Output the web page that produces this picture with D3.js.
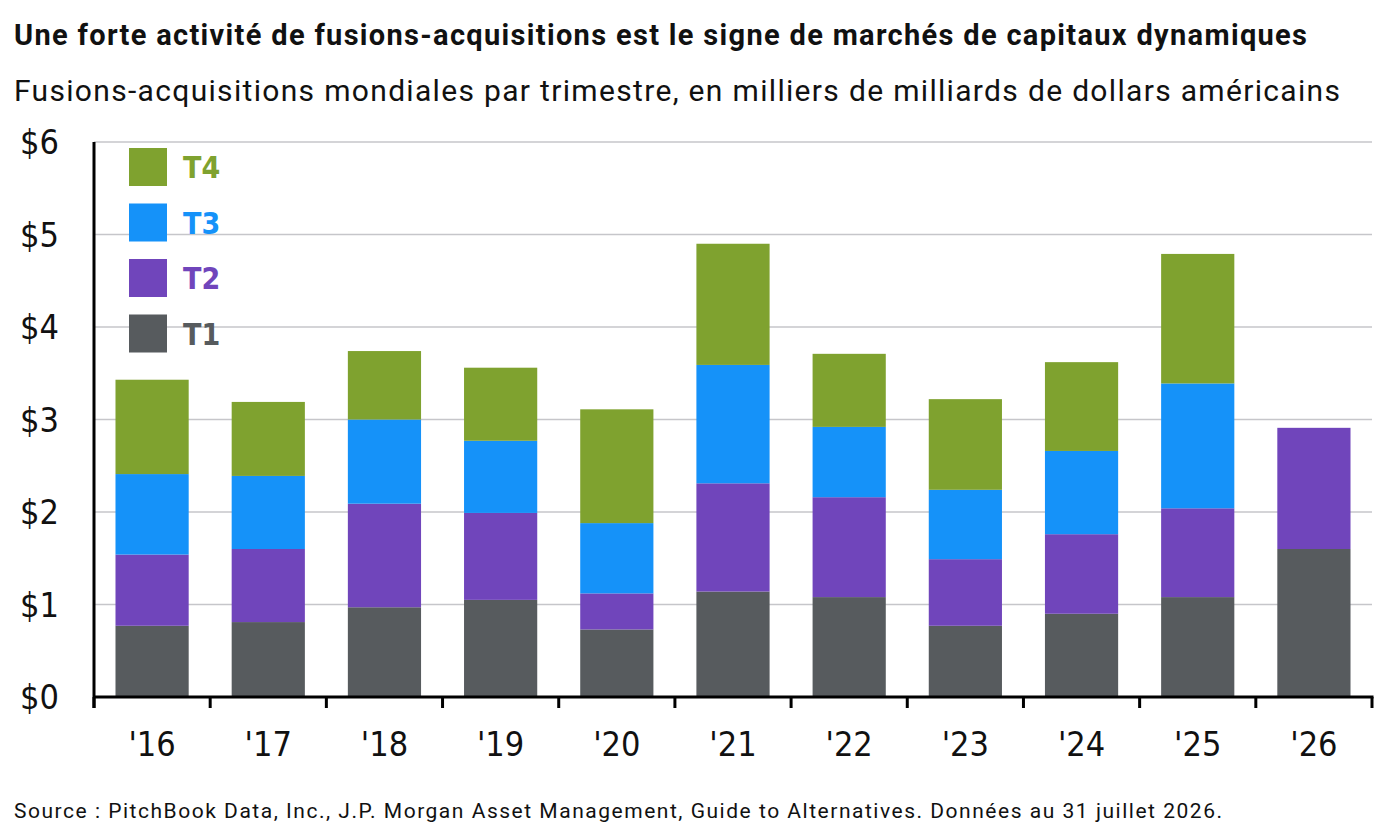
<!DOCTYPE html>
<html>
<head>
<meta charset="utf-8">
<script src="https://cdn.jsdelivr.net/npm/d3@7"></script>
<style>
  body { margin: 0; background: #fff; }
  svg { display: block; }
</style>
</head>
<body>
<div id="chart"></div>
<script>
// data
const years = ["'16", "'17", "'18", "'19", "'20", "'21", "'22", "'23", "'24", "'25", "'26"];
const q1 = [0.77, 0.81, 0.97, 1.05, 0.73, 1.14, 1.08, 0.77, 0.90, 1.08, 1.60];
const q2 = [0.77, 0.79, 1.12, 0.94, 0.39, 1.17, 1.08, 0.72, 0.86, 0.96, 1.31];
const q3 = [0.87, 0.79, 0.91, 0.78, 0.76, 1.28, 0.76, 0.75, 0.90, 1.35, 0];
const q4 = [1.02, 0.80, 0.74, 0.79, 1.23, 1.31, 0.79, 0.98, 0.96, 1.40, 0];
const yTicks = [0, 1, 2, 3, 4, 5, 6];
const seriesKeys = ["T1", "T2", "T3", "T4"];
const seriesColors = ["#575b5e", "#7045bb", "#1592f9", "#7fa22f"];

const W = 1390, H = 838;
const plot = { left: 94, right: 1372, top: 142, bottom: 697 };

const rows = years.map((y, i) => ({ year: y, T1: q1[i], T2: q2[i], T3: q3[i], T4: q4[i] }));
const stacked = d3.stack().keys(seriesKeys)(rows);

const svg = d3.select("#chart").append("svg")
  .attr("width", W)
  .attr("height", H);

const x = d3.scaleBand()
  .domain(years)
  .range([plot.left, plot.right])
  .paddingInner(0.37)
  .paddingOuter(0.185);

const y = d3.scaleLinear()
  .domain([0, 6])
  .range([plot.bottom, plot.top]);

const color = d3.scaleOrdinal().domain(seriesKeys).range(seriesColors);

const narrow = "'Liberation Sans Narrow', 'DejaVu Sans Condensed', sans-serif";
const sans = "Roboto, sans-serif";

// titles (textLength keeps the widths of the original typeface)
svg.append("text")
  .attr("x", 14).attr("y", 45)
  .attr("font-family", sans)
  .attr("font-weight", 700)
  .attr("font-size", 29)
  .attr("fill", "#111")
  .attr("textLength", 1293)
  .attr("lengthAdjust", "spacing")
  .text("Une forte activité de fusions-acquisitions est le signe de marchés de capitaux dynamiques");

svg.append("text")
  .attr("x", 14).attr("y", 101)
  .attr("font-family", sans)
  .attr("font-size", 30)
  .attr("fill", "#111")
  .attr("textLength", 1326)
  .attr("lengthAdjust", "spacing")
  .text("Fusions-acquisitions mondiales par trimestre, en milliers de milliards de dollars américains");

// gridlines
svg.append("g")
  .selectAll("line")
  .data(yTicks.filter(d => d > 0))
  .join("line")
  .attr("x1", plot.left).attr("x2", plot.right)
  .attr("y1", d => y(d)).attr("y2", d => y(d))
  .attr("stroke", "#c6c6ca")
  .attr("stroke-width", 1.5);

// y labels
svg.append("g")
  .selectAll("text")
  .data(yTicks)
  .join("text")
  .attr("x", 59)
  .attr("y", d => y(d) + 12)
  .attr("text-anchor", "end")
  .attr("font-family", narrow)
  .attr("font-size", 34)
  .attr("fill", "#111")
  .text(d => "$" + d);

// bars
svg.append("g")
  .selectAll("g")
  .data(stacked)
  .join("g")
  .attr("fill", d => color(d.key))
  .selectAll("rect")
  .data(d => d)
  .join("rect")
  .attr("x", d => x(d.data.year))
  .attr("width", x.bandwidth())
  .attr("y", d => y(d[1]))
  .attr("height", d => y(d[0]) - y(d[1]));

// axes
svg.append("line")
  .attr("x1", plot.left).attr("x2", plot.left)
  .attr("y1", plot.top).attr("y2", plot.bottom + 11)
  .attr("stroke", "#000").attr("stroke-width", 3);

svg.append("line")
  .attr("x1", plot.left).attr("x2", plot.right + 1.5)
  .attr("y1", plot.bottom).attr("y2", plot.bottom)
  .attr("stroke", "#000").attr("stroke-width", 3);

const step = x.step();
const bounds = years.map(d => x(d) + x.bandwidth() / 2 - step / 2).concat([plot.right]);
svg.append("g")
  .selectAll("line")
  .data(bounds)
  .join("line")
  .attr("x1", d => d).attr("x2", d => d)
  .attr("y1", plot.bottom).attr("y2", plot.bottom + 11)
  .attr("stroke", "#000").attr("stroke-width", 3);

svg.append("g")
  .selectAll("text")
  .data(years)
  .join("text")
  .attr("x", d => x(d) + x.bandwidth() / 2)
  .attr("y", 756)
  .attr("text-anchor", "middle")
  .attr("font-family", narrow)
  .attr("font-size", 34)
  .attr("fill", "#111")
  .text(d => d);

// legend
const legend = svg.append("g")
  .selectAll("g")
  .data(seriesKeys.slice().reverse())
  .join("g")
  .attr("transform", (d, i) => `translate(129,${148 + i * 55.5})`);

legend.append("rect")
  .attr("width", 38).attr("height", 38)
  .attr("fill", d => color(d));

legend.append("text")
  .attr("x", 54).attr("y", 30)
  .attr("font-family", narrow)
  .attr("font-weight", 700)
  .attr("font-size", 30)
  .attr("fill", d => color(d))
  .text(d => d);

// source
svg.append("text")
  .attr("x", 14).attr("y", 818)
  .attr("font-family", sans)
  .attr("font-size", 21)
  .attr("fill", "#111")
  .attr("textLength", 1208)
  .attr("lengthAdjust", "spacing")
  .text("Source : PitchBook Data, Inc., J.P. Morgan Asset Management, Guide to Alternatives. Données au 31 juillet 2026.");
</script>
</body>
</html>
